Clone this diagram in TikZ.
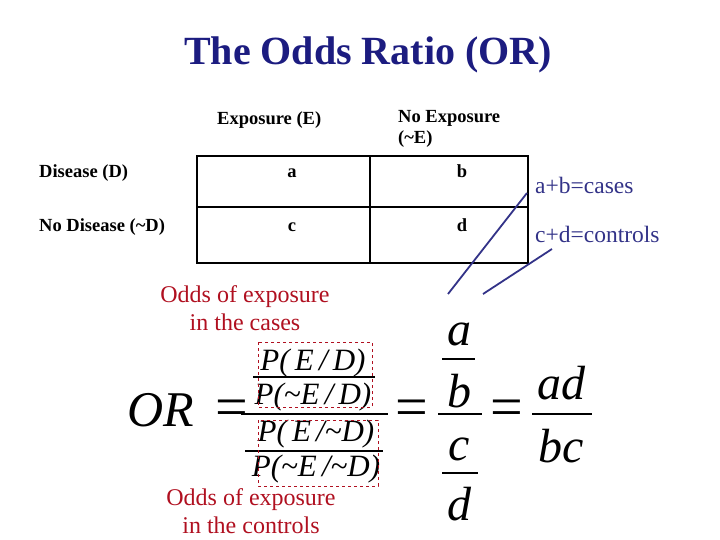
\documentclass[tikz,border=0pt]{standalone}
\usepackage{fontspec}
\setmainfont{Liberation Serif}
\begin{document}
\begin{tikzpicture}[x=1pt,y=-1pt,
  lbl/.style={font=\bfseries\fontsize{18.5}{21}\selectfont,inner sep=0pt,anchor=base west},
  cell/.style={font=\bfseries\fontsize{18.5}{21}\selectfont,inner sep=0pt,anchor=base},
  note/.style={font=\fontsize{23.5}{26}\selectfont,text=navy,inner sep=0pt,anchor=base west},
  red/.style={font=\fontsize{24}{28}\selectfont,text=dred,inner sep=0pt,align=center,anchor=base},
  mth/.style={font=\itshape\fontsize{31}{34}\selectfont,inner sep=0pt,anchor=base},
  big/.style={font=\itshape\fontsize{48}{50}\selectfont,inner sep=0pt,anchor=base},
  bar/.style={line width=1.2pt},
  dbox/.style={draw=dred,dashed,line width=0.6pt},
  ptr/.style={draw=navy,line width=1.8pt}]
\definecolor{navy}{HTML}{333388}
\definecolor{dred}{HTML}{B01020}
\definecolor{tblue}{HTML}{1C1C80}
\useasboundingbox (0,0) rectangle (720,540);
\node[font=\bfseries\fontsize{40}{44}\selectfont,text=tblue,anchor=base] (title) at (368,65) {The Odds Ratio (OR)};
\node[lbl] (e) at (217,125) {Exposure (E)};
\node[lbl,align=left,anchor=north west] (ne) at (398,110) {No Exposure\\(\textasciitilde E)};
\node[lbl] (dd) at (39,178) {Disease (D)};
\node[lbl] (nd) at (39,232) {No Disease (\textasciitilde D)};
\draw[line width=1.5pt] (197,156) rectangle (528,263);
\draw[line width=1.5pt] (197,207) -- (528,207) (370,156) -- (370,263);
\node[cell] (ca) at (292,178) {a};
\node[cell] (cb) at (462,178) {b};
\node[cell] (cc) at (292,232) {c};
\node[cell] (cd) at (462,232) {d};
\node[note] (n1) at (535,194) {a+b=cases};
\node[note] (n2) at (535,242) {c+d=controls};
\coordinate (p1) at (448,294);
\coordinate (p2) at (483,294);
\coordinate (q1) at (527,193);
\coordinate (q2) at (552,249);
\draw[ptr] (p1) -- (q1);
\draw[ptr] (p2) -- (q2);
\node[red] (r1) at (245,330) {Odds of exposure\\in the cases};
\node[red] (r2) at (251,533) {Odds of exposure\\in the controls};
\node[font=\itshape\fontsize{50}{54}\selectfont,inner sep=0pt,anchor=base] (or) at (161,426) {OR};
\node[font=\fontsize{58}{60}\selectfont,inner sep=0pt,anchor=base] (eq1) at (232,426) {=};
\node[mth] (m1) at (313,370) {P(\,E\,/\,D)};
\node[mth] (m2) at (313,404) {P(\textasciitilde E\,/\,D)};
\node[mth] (m3) at (316,441) {P(\,E\,/\textasciitilde D)};
\node[mth] (m4) at (316,476) {P(\textasciitilde E\,/\textasciitilde D)};
\draw[bar] (241,414) -- (388,414);
\draw[bar] (253,377) -- (375,377);
\draw[bar] (245,451) -- (383,451);
\draw[dbox] (258,342) rectangle (372,407);
\draw[dbox] (258,420) rectangle (378,486);
\node[font=\fontsize{58}{60}\selectfont,inner sep=0pt,anchor=base] (eq2) at (412,426) {=};
\node[big] (fa) at (459,345) {a};
\node[big] (fb) at (459,407) {b};
\node[big] (fc) at (459,460) {c};
\node[big] (fd) at (459,520) {d};
\draw[bar] (442,359) -- (475,359);
\draw[bar] (438,414) -- (482,414);
\draw[bar] (442,473) -- (478,473);
\node[font=\fontsize{58}{60}\selectfont,inner sep=0pt,anchor=base] (eq3) at (507,426) {=};
\node[big] (ad) at (561,399) {ad};
\node[big] (bc) at (561,462) {bc};
\draw[bar] (532,414) -- (592,414);
\end{tikzpicture}
\end{document}
